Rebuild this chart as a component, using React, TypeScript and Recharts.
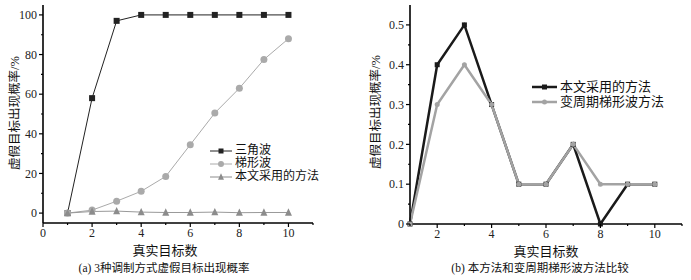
import { LineChart, Line, XAxis, YAxis } from 'recharts';

// left chart: 3 modulation schemes
const xTargets = [1, 2, 3, 4, 5, 6, 7, 8, 9, 10];
const triangleWave = [0, 58, 97, 100, 100, 100, 100, 100, 100, 100];
const trapezoidWave = [0, 1.5, 6, 11, 18.5, 34.5, 50.5, 63, 77.5, 88];
const ourMethodA = [0, 0.8, 1, 0.5, 0.3, 0.3, 0.5, 0.2, 0.3, 0.3];

// right chart: ours vs variable-period trapezoid
const ourMethodB = [0, 0.4, 0.5, 0.3, 0.1, 0.1, 0.2, 0, 0.1, 0.1];
const varTrapezoid = [0, 0.3, 0.4, 0.3, 0.1, 0.1, 0.2, 0.1, 0.1, 0.1];

const leftXTicks = [0, 1, 2, 3, 4, 5, 6, 7, 8, 9, 10, 11];
const leftYTicks = [0, 10, 20, 30, 40, 50, 60, 70, 80, 90, 100];
const rightXTicks = [1, 2, 3, 4, 5, 6, 7, 8, 9, 10, 11];
const rightYTicks = [0, 0.05, 0.1, 0.15, 0.2, 0.25, 0.3, 0.35, 0.4, 0.45, 0.5];

const leftData = xTargets.map((x, i) => ({
  x,
  tri: triangleWave[i],
  trap: trapezoidWave[i],
  ours: ourMethodA[i],
}));
const rightData = xTargets.map((x, i) => ({
  x,
  ours: ourMethodB[i],
  vt: varTrapezoid[i],
}));

const SERIF = "'Liberation Serif', 'Noto Sans CJK SC', serif";
const CJK = "'Liberation Serif', 'Noto Sans CJK SC', sans-serif";

const isMajor = (v: number, step: number) =>
  Math.abs(v / step - Math.round(v / step)) < 1e-6;

const fmt = (v: number) => String(Math.round(v * 100) / 100);

const makeYTick = (step: number) => (props: any) => {
  const { x, y, payload } = props;
  const major = isMajor(payload.value, step);
  return (
    <g>
      <line x1={x} x2={x - (major ? 4 : 2)} y1={y} y2={y} stroke="#000" strokeWidth={1.2} />
      {major && (
        <text x={x - 6} y={y} dy="0.35em" textAnchor="end" fontSize={12} fontFamily={SERIF} fill="#222">
          {fmt(payload.value)}
        </text>
      )}
    </g>
  );
};

const makeXTick = (step: number) => (props: any) => {
  const { x, y, payload } = props;
  const major = isMajor(payload.value, step);
  return (
    <g>
      <line x1={x} x2={x} y1={y} y2={y + (major ? 4 : 2)} stroke="#000" strokeWidth={1.2} />
      {major && (
        <text x={x} y={y + 14} textAnchor="middle" fontSize={12} fontFamily={SERIF} fill="#222">
          {fmt(payload.value)}
        </text>
      )}
    </g>
  );
};

const Marker = (props: any) => {
  const { cx, cy, shape, size, fill } = props;
  if (cx == null || cy == null) return null;
  if (shape === 'square') {
    return <rect x={cx - size / 2} y={cy - size / 2} width={size} height={size} fill={fill} />;
  }
  if (shape === 'triangle') {
    const h = size * 0.9;
    return (
      <polygon
        points={`${cx},${cy - h / 2 - 1} ${cx - size / 2},${cy + h / 2} ${cx + size / 2},${cy + h / 2}`}
        fill={fill}
      />
    );
  }
  return <circle cx={cx} cy={cy} r={size / 2} fill={fill} />;
};

const dotOf = (shape: string, size: number, fill: string) => (p: any) => (
  <Marker key={`${shape}-${p.index}`} {...p} shape={shape} size={size} fill={fill} />
);

const LegendRow = ({ color, shape, width, size, label, lineW }: any) => (
  <div style={{ display: 'flex', alignItems: 'center', height: 13 }}>
    <svg width={width} height={10} style={{ marginRight: 3 }}>
      <line x1={0} x2={width} y1={5} y2={5} stroke={color} strokeWidth={lineW} />
      <Marker cx={width / 2} cy={5} shape={shape} size={size} fill={color} />
    </svg>
    <span>{label}</span>
  </div>
);

const textStyle = (left: number, top: number, size: number): any => ({
  position: 'absolute',
  left,
  top,
  fontSize: size,
  fontFamily: CJK,
  color: '#111',
  whiteSpace: 'nowrap',
  transform: 'translate(-50%, -50%)',
});

export default function App() {
  return (
    <div style={{ position: 'absolute', left: 0, top: 0, width: 691, height: 280, background: '#fff' }}>
      <div style={{ position: 'absolute', left: 0, top: 0 }}>
        <LineChart width={345} height={280} data={leftData} margin={{ top: 5, right: 32, bottom: 56, left: 42 }}>
          <XAxis
            dataKey="x"
            type="number"
            domain={[0, 11]}
            ticks={leftXTicks}
            height={1}
            tickSize={0}
            tickMargin={0}
            interval={0}
            stroke="#000"
            strokeWidth={1.6}
            tick={makeXTick(2)}
          />
          <YAxis
            type="number"
            domain={[-5, 105]}
            ticks={leftYTicks}
            width={1}
            tickSize={0}
            tickMargin={0}
            interval={0}
            stroke="#000"
            strokeWidth={1.6}
            tick={makeYTick(20)}
          />
          <Line dataKey="tri" stroke="#222" strokeWidth={1} dot={dotOf('square', 6, '#222')} isAnimationActive={false} />
          <Line dataKey="trap" stroke="#aaa" strokeWidth={1} dot={dotOf('circle', 7, '#aaa')} isAnimationActive={false} />
          <Line dataKey="ours" stroke="#999" strokeWidth={1} dot={dotOf('triangle', 7, '#8c8c8c')} isAnimationActive={false} />
        </LineChart>
      </div>

      <div style={{ position: 'absolute', left: 345, top: 0 }}>
        <LineChart width={346} height={280} data={rightData} margin={{ top: 5, right: 9, bottom: 55, left: 64 }}>
          <XAxis
            dataKey="x"
            type="number"
            domain={[1, 11]}
            ticks={rightXTicks}
            height={1}
            tickSize={0}
            tickMargin={0}
            interval={0}
            stroke="#000"
            strokeWidth={1.6}
            tick={makeXTick(2)}
          />
          <YAxis
            type="number"
            domain={[0, 0.55]}
            ticks={rightYTicks}
            width={1}
            tickSize={0}
            tickMargin={0}
            interval={0}
            stroke="#000"
            strokeWidth={1.6}
            tick={makeYTick(0.1)}
          />
          <Line dataKey="ours" stroke="#1a1a1a" strokeWidth={2.5} dot={dotOf('square', 5, '#1a1a1a')} isAnimationActive={false} />
          <Line dataKey="vt" stroke="#a3a3a3" strokeWidth={2.5} dot={dotOf('circle', 5, '#a3a3a3')} isAnimationActive={false} />
        </LineChart>
      </div>

      {/* legends */}
      <div style={{ position: 'absolute', left: 210, top: 144, fontSize: 12, fontFamily: CJK, color: '#111', lineHeight: '13px' }}>
        <LegendRow color="#222" shape="square" width={22} size={5} lineW={1} label="三角波" />
        <LegendRow color="#aaa" shape="circle" width={22} size={6} lineW={1} label="梯形波" />
        <LegendRow color="#8c8c8c" shape="triangle" width={22} size={6} lineW={1} label="本文采用的方法" />
      </div>
      <div style={{ position: 'absolute', left: 532, top: 80, fontSize: 13, fontFamily: CJK, color: '#111', lineHeight: '15px' }}>
        <div style={{ marginBottom: 2 }}>
          <LegendRow color="#1a1a1a" shape="square" width={25} size={5} lineW={2.5} label="本文采用的方法" />
        </div>
        <LegendRow color="#a3a3a3" shape="circle" width={25} size={5} lineW={2.5} label="变周期梯形波方法" />
      </div>

      {/* axis titles and captions */}
      <div style={{ ...textStyle(13, 113, 12.5), transform: 'translate(-50%, -50%) rotate(-90deg)' }}>虚假目标出现概率/%</div>
      <div style={textStyle(165, 249, 13)}>真实目标数</div>
      <div style={textStyle(164, 267, 11.5)}>(a) 3种调制方式虚假目标出现概率</div>

      <div style={{ ...textStyle(374, 112, 12.5), transform: 'translate(-50%, -50%) rotate(-90deg)' }}>虚假目标出现概率/%</div>
      <div style={textStyle(546, 250, 13)}>真实目标数</div>
      <div style={textStyle(540, 267, 11.5)}>(b) 本方法和变周期梯形波方法比较</div>
    </div>
  );
}
